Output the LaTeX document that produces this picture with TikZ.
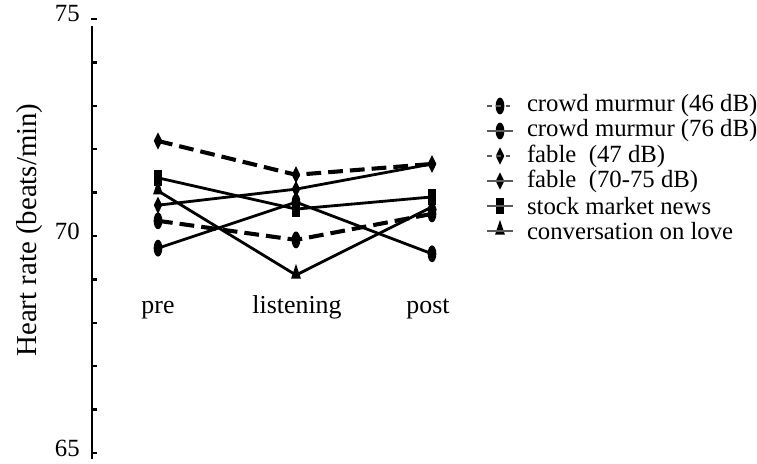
\documentclass[tikz,border=0pt]{standalone}
\usepackage{fontspec}
\setmainfont{Liberation Serif}
\usepackage{tikz}
\usetikzlibrary{shapes.geometric, positioning}

\begin{document}
\begin{tikzpicture}[
    x=0.025cm, y=0.025cm,
    every node/.style={font=\fontsize{17.6}{20}\selectfont},
    murmur/.style={ellipse, fill=black, inner sep=0pt, minimum width=6.2pt, minimum height=12pt},
    fablemk/.style={diamond, fill=black, inner sep=0pt, aspect=0.5, minimum width=6.2pt, minimum height=12.5pt},
    stockmk/.style={rectangle, fill=black, inner sep=0pt, minimum width=5.4pt, minimum height=11pt},
    lovemk/.style={isosceles triangle, shape border rotate=90, isosceles triangle stretches, fill=black, inner sep=0pt, minimum width=7pt, minimum height=10.5pt},
    solidline/.style={line width=2pt},
    dashline/.style={line width=2.9pt, dash pattern=on 10.5pt off 5pt},
    keyline/.style={line width=1.1pt, gray!70!black},
    keydash/.style={line width=1.1pt, gray!70!black, dash pattern=on 3pt off 3.5pt},
    ticklbl/.style={font=\fontsize{17.6}{20}\selectfont, anchor=east, inner sep=0pt},
    catlbl/.style={font=\fontsize{18.4}{21}\selectfont, anchor=base},
    keylbl/.style={inner sep=0pt}
]
\useasboundingbox (0,0) rectangle (757,463);

% ── Axis, in beats/min ──
\begin{scope}[shift={(0,-2811)}, yscale=43.4]
\coordinate (ybot) at (92,65);
\coordinate (ytop) at (92,75);
\draw[line width=2.1pt] (ybot) -- (ytop);
\foreach \v in {65,...,75}
  \draw[line width=1.6pt] (91,\v) -- ++(6,0);
\node[ticklbl, yshift=4pt] (t75) at (80,75) {75};
\node[ticklbl, yshift=3pt] (t70) at (80,70) {70};
\node[ticklbl, yshift=3pt] (t65) at (80,65) {65};

% ── Markers: pre / listening / post ──
\node[murmur]  (m46a) at (158,70.35) {};
\node[murmur]  (m46b) at (296,69.91) {};
\node[murmur]  (m46c) at (432,70.51) {};
\node[murmur]  (m76a) at (158,69.72) {};
\node[murmur]  (m76b) at (296,70.78) {};
\node[murmur]  (m76c) at (432,69.59) {};
\node[fablemk] (f47a) at (158,72.19) {};
\node[fablemk] (f47b) at (296,71.41) {};
\node[fablemk] (f47c) at (432,71.66) {};
\node[fablemk] (f70a) at (158,70.71) {};
\node[fablemk] (f70b) at (296,71.08) {};
\node[fablemk] (f70c) at (432,71.66) {};
\node[stockmk] (stka) at (158,71.34) {};
\node[stockmk] (stkb) at (296,70.62) {};
\node[stockmk] (stkc) at (432,70.90) {};
\node[lovemk]  (lova) at (158,71.04) {};
\node[lovemk]  (lovb) at (296,69.10) {};
\node[lovemk]  (lovc) at (432,70.67) {};
\end{scope}

% ── Lines ──
\draw[dashline]  (m46a.center) -- (m46b.center) -- (m46c.center);
\draw[solidline] (m76a.center) -- (m76b.center) -- (m76c.center);
\draw[dashline]  (f47a.center) -- (f47b.center) -- (f47c.center);
\draw[solidline] (f70a.center) -- (f70b.center) -- (f70c.center);
\draw[solidline] (stka.center) -- (stkb.center) -- (stkc.center);
\draw[solidline] (lova.center) -- (lovb.center) -- (lovc.center);

% ── Axis titles ──
\node[font=\fontsize{20.5}{24}\selectfont, rotate=90] (ylbl) at (30,233) {Heart rate (beats/min)};
\node[catlbl] (pre)  at (158,150) {pre};
\node[catlbl] (lis)  at (297,150) {listening};
\node[catlbl] (post) at (428,150) {post};

% ── Legend ──
\node[murmur]  (k1) at (500,357) {};
\node[murmur]  (k2) at (500,332) {};
\node[fablemk] (k3) at (500,307) {};
\node[fablemk] (k4) at (500,282) {};
\node[stockmk] (k5) at (500,257) {};
\node[lovemk]  (k6) at (500,232) {};
\draw[keydash] ([xshift=-9pt]k1.center) -- ([xshift=9pt]k1.center);
\draw[keyline] ([xshift=-9pt]k2.center) -- ([xshift=9pt]k2.center);
\draw[keydash] ([xshift=-9pt]k3.center) -- ([xshift=9pt]k3.center);
\draw[keyline] ([xshift=-9pt]k4.center) -- ([xshift=9pt]k4.center);
\draw[keyline] ([xshift=-9pt]k5.center) -- ([xshift=9pt]k5.center);
\draw[keyline] ([xshift=-9pt]k6.center) -- ([xshift=9pt]k6.center);
\node[keylbl, right=19pt of k1.center] (k1t) {crowd murmur (46 dB)};
\node[keylbl, right=19pt of k2.center] (k2t) {crowd murmur (76 dB)};
\node[keylbl, right=19pt of k3.center] (k3t) {fable~ (47 dB)};
\node[keylbl, right=19pt of k4.center] (k4t) {fable~ (70-75 dB)};
\node[keylbl, right=19pt of k5.center] (k5t) {stock market news};
\node[keylbl, right=19pt of k6.center] (k6t) {conversation on love};

\end{tikzpicture}
\end{document}
